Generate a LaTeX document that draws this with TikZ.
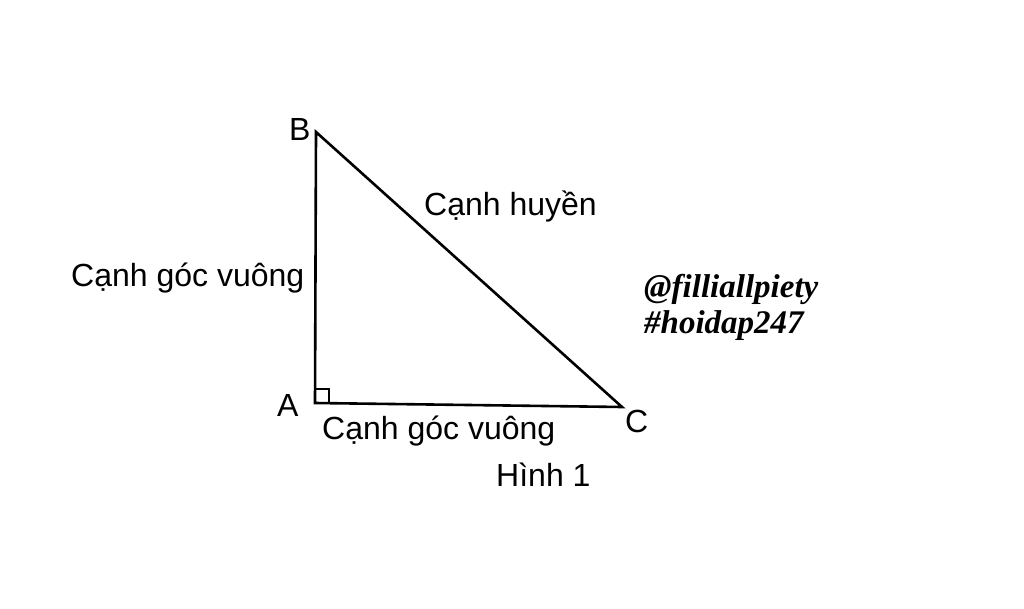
\documentclass[tikz,border=0pt]{standalone}
\usepackage{fontspec}
\setmainfont{Liberation Sans}
\newfontfamily\wmfont{Liberation Serif}
\begin{document}
\begin{tikzpicture}[x=1pt,y=-1pt,
  lbl/.style={anchor=base west,inner sep=0pt,font=\fontsize{32}{36}\selectfont},
  wm/.style={anchor=base west,inner sep=0pt,font=\wmfont\bfseries\itshape\fontsize{33}{38}\selectfont},
  side/.style={line width=2.6pt,line join=miter}]
\useasboundingbox (0,0) rectangle (1024,609);
\coordinate (B) at (316,132);
\coordinate (A) at (315,403);
\coordinate (C) at (622,407);
\draw[side] (B) -- (A) -- (C) -- cycle;
\coordinate (r1) at (315,389);
\coordinate (r2) at (329,389);
\coordinate (r3) at (329,403.2);
\draw[line width=2pt] (r1) -- (r2) -- (r3);
\node[lbl] (lB) at (289,141) {B};
\node[lbl] (lA) at (277,416) {A};
\node[lbl] (lC) at (625,432) {C};
\node[lbl] (hyp) at (424,216) {Cạnh huyền};
\node[lbl] (leg1) at (71,287) {Cạnh góc vuông};
\node[lbl] (leg2) at (322,439) {Cạnh góc vuông};
\node[lbl] (fig) at (496,486) {Hình 1};
\node[wm] (w1) at (644,298) {@filliallpiety};
\node[wm] (w2) at (644,333) {\#hoidap247};
\end{tikzpicture}
\end{document}
